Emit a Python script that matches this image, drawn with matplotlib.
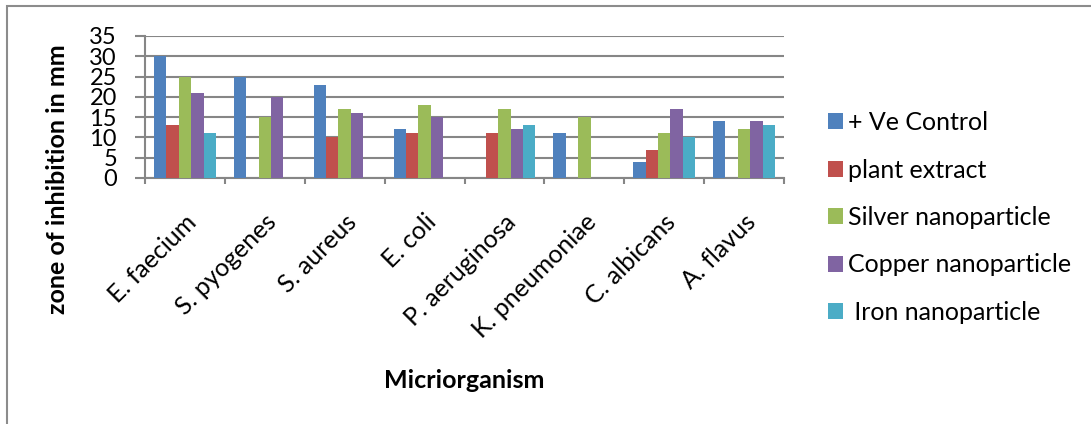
import numpy as np
import matplotlib
matplotlib.use("Agg")
import matplotlib.pyplot as plt
import matplotlib.transforms as mtransforms
from matplotlib.patches import Rectangle

# Data
organisms = ['E. faecium', 'S. pyogenes', 'S. aureus', 'E. coli',
             'P. aeruginosa', 'K. pneumoniae', 'C. albicans', 'A. flavus']
series_names = ['+ Ve Control', 'plant extract', 'Silver nanoparticle',
                'Copper nanoparticle', ' Iron nanoparticle']
ve_control = [30, 25, 23, 12, 0, 11, 4, 14]
plant_extract = [13, 0, 10, 11, 11, 0, 7, 0]
silver = [25, 15, 17, 18, 17, 15, 11, 12]
copper = [21, 20, 16, 15, 12, 0, 17, 14]
iron = [11, 0, 0, 0, 13, 0, 10, 13]
colors = ['#4F81BD', '#C0504D', '#9BBB59', '#8064A2', '#4BACC6']

W, H = 1091, 424
fig = plt.figure(figsize=(W / 100, H / 100), dpi=100)
ax = fig.add_axes([145 / W, 1 - 178 / H, (784 - 145) / W, (178 - 36) / H])

grey = '#868686'

x = np.arange(len(organisms))
bw = 0.155
all_series = [ve_control, plant_extract, silver, copper, iron]
for i, (vals, name, c) in enumerate(zip(all_series, series_names, colors)):
    vals = np.array(vals, dtype=float)
    ax.bar(x + (i - 2) * bw, vals, bw, color=c, label=name, zorder=3,
           linewidth=0)

ax.set_xlim(-0.5, len(organisms) - 0.5)
ax.set_ylim(0, 35)
ax.set_yticks(range(0, 36, 5))
ax.yaxis.grid(True, color=grey, linewidth=1.5, zorder=0)
ax.set_axisbelow(True)

for s in ['top', 'right']:
    ax.spines[s].set_visible(False)
for s in ['left', 'bottom']:
    ax.spines[s].set_color(grey)
    ax.spines[s].set_linewidth(1.5)

ax.tick_params(axis='y', length=7.2, width=1.5, color=grey, pad=13,
               labelsize=17)
for lab in ax.get_yticklabels():
    lab.set_family('Lato')

# category ticks at boundaries, labels at centres
ax.set_xticks(x)
ax.set_xticks(np.arange(-0.5, len(organisms), 1), minor=True)
ax.tick_params(axis='x', which='major', length=0, pad=29, labelsize=18)
ax.tick_params(axis='x', which='minor', length=4.3, width=1.5, color=grey)
ax.set_xticklabels(organisms, rotation=45, ha='right', va='center',
                   rotation_mode='anchor', family='Lato')
shift = mtransforms.ScaledTranslation(8 / 100, 0, fig.dpi_scale_trans)
for lab in ax.get_xticklabels():
    lab.set_transform(lab.get_transform() + shift)

fig.text(58 / W, 1 - 179 / H, 'zone of inhibition in mm', rotation=90,
         ha='center', va='center', fontsize=18, fontweight='bold',
         family='Lato')
fig.text(464 / W, 1 - 380 / H, 'Micriorganism', ha='center', va='center',
         fontsize=18, fontweight='bold', family='Lato')

leg = fig.legend(loc='center left', bbox_to_anchor=(828 / W, 1 - 217.5 / H),
                 frameon=False, prop={'family': 'Lato', 'size': 18},
                 handlelength=0.6, handleheight=0.6, handletextpad=0.2,
                 labelspacing=0.98, borderpad=0, borderaxespad=0)

# outer chart border (only top and left visible)
fig.add_artist(Rectangle((7 / W, -1), 2, 1 + (1 - 6 / H), fill=False,
                         edgecolor='#8c8c8c', linewidth=1.5,
                         transform=fig.transFigure, clip_on=False))

fig.savefig('out.png', dpi=100)
